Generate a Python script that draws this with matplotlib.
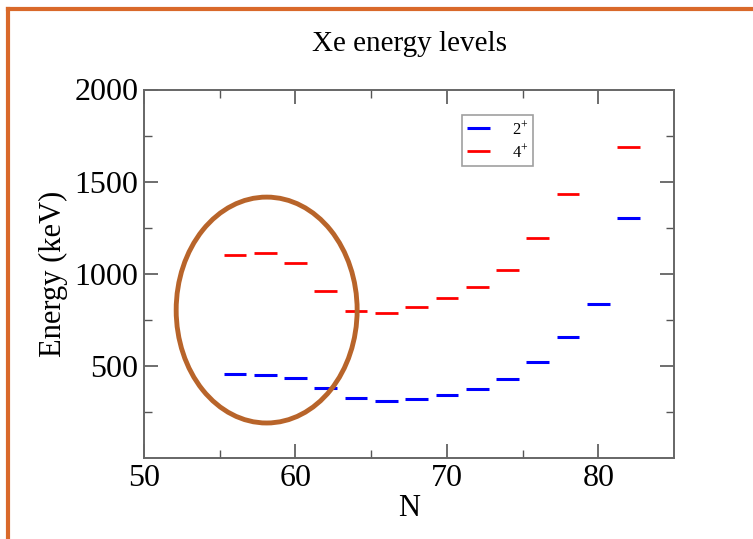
import numpy as np
import matplotlib
matplotlib.use("Agg")
import matplotlib.pyplot as plt
from matplotlib.patches import Ellipse
from matplotlib.lines import Line2D

# %% data: Xe yrast levels vs neutron number
n_vals = [56, 58, 60, 62, 64, 66, 68, 70, 72, 74, 76, 78, 80, 82]
e_2plus = [456, 452, 436, 380, 326, 309, 319, 340, 374, 430, 523, 657, 837, 1302]
n_4plus = [56, 58, 60, 62, 64, 66, 68, 70, 72, 74, 76, 78, 82]
e_4plus = [1101, 1111, 1056, 908, 799, 785, 818, 868, 929, 1020, 1194, 1432, 1688]

plt.rcParams['font.family'] = ['Liberation Serif', 'DejaVu Serif']
plt.rcParams['mathtext.fontset'] = 'stix'

fig = plt.figure(figsize=(7.53, 5.39), dpi=100)
ax = fig.add_axes([144/753, 1 - 458/539, 530/753, 368.5/539])

half = 0.75
ax.hlines(e_2plus, np.array(n_vals) - half, np.array(n_vals) + half,
          color='#0000ff', linewidth=2.2, label=r'$\mathregular{2^{+}}$')
ax.hlines(e_4plus, np.array(n_4plus) - half, np.array(n_4plus) + half,
          color='#ff0000', linewidth=2.0, label=r'$\mathregular{4^{+}}$')

ax.set_xlim(50, 85)
ax.set_ylim(0, 2000)
ax.set_xticks([50, 60, 70, 80])
ax.set_xticks([55, 65, 75], minor=True)
ax.set_yticks([500, 1000, 1500, 2000])
ax.set_yticks([250, 750, 1250, 1750], minor=True)
ax.tick_params(which='both', direction='in', top=True, right=True,
               color='#555555', labelsize=23, pad=4)
ax.tick_params(which='major', length=10, width=1.2)
ax.tick_params(which='minor', length=6, width=1.0)
for s in ax.spines.values():
    s.set_color('#666666')
    s.set_linewidth(1.4)

ax.set_xlabel('N', fontsize=22, labelpad=1)
ax.set_ylabel('Energy (keV)', fontsize=22, labelpad=5)
ax.set_title('Xe energy levels', fontsize=21, pad=28)

leg = ax.legend(loc='upper left', bbox_to_anchor=(318/530, 1 - 25.5/368.5),
                fontsize=12, frameon=True, fancybox=False,
                handlelength=1.4, handletextpad=1.3, borderpad=0.3,
                borderaxespad=0, labelspacing=0.3)
leg.get_frame().set_edgecolor('#888888')
leg.get_frame().set_linewidth(1.2)

# highlight ellipse around the light isotopes
ell = Ellipse((58.1, 803), width=11.95, height=1226, fill=False,
              edgecolor='#b8642a', linewidth=3.5, zorder=5, clip_on=False)
ax.add_patch(ell)

# slide frame
fig.add_artist(Line2D([8/753, 1], [1 - 9/539, 1 - 9/539],
                      transform=fig.transFigure, color='#d9692a', linewidth=3))
fig.add_artist(Line2D([8/753, 8/753], [0, 1 - 9/539],
                      transform=fig.transFigure, color='#d9692a', linewidth=3))

fig.savefig('out.png', dpi=100)
